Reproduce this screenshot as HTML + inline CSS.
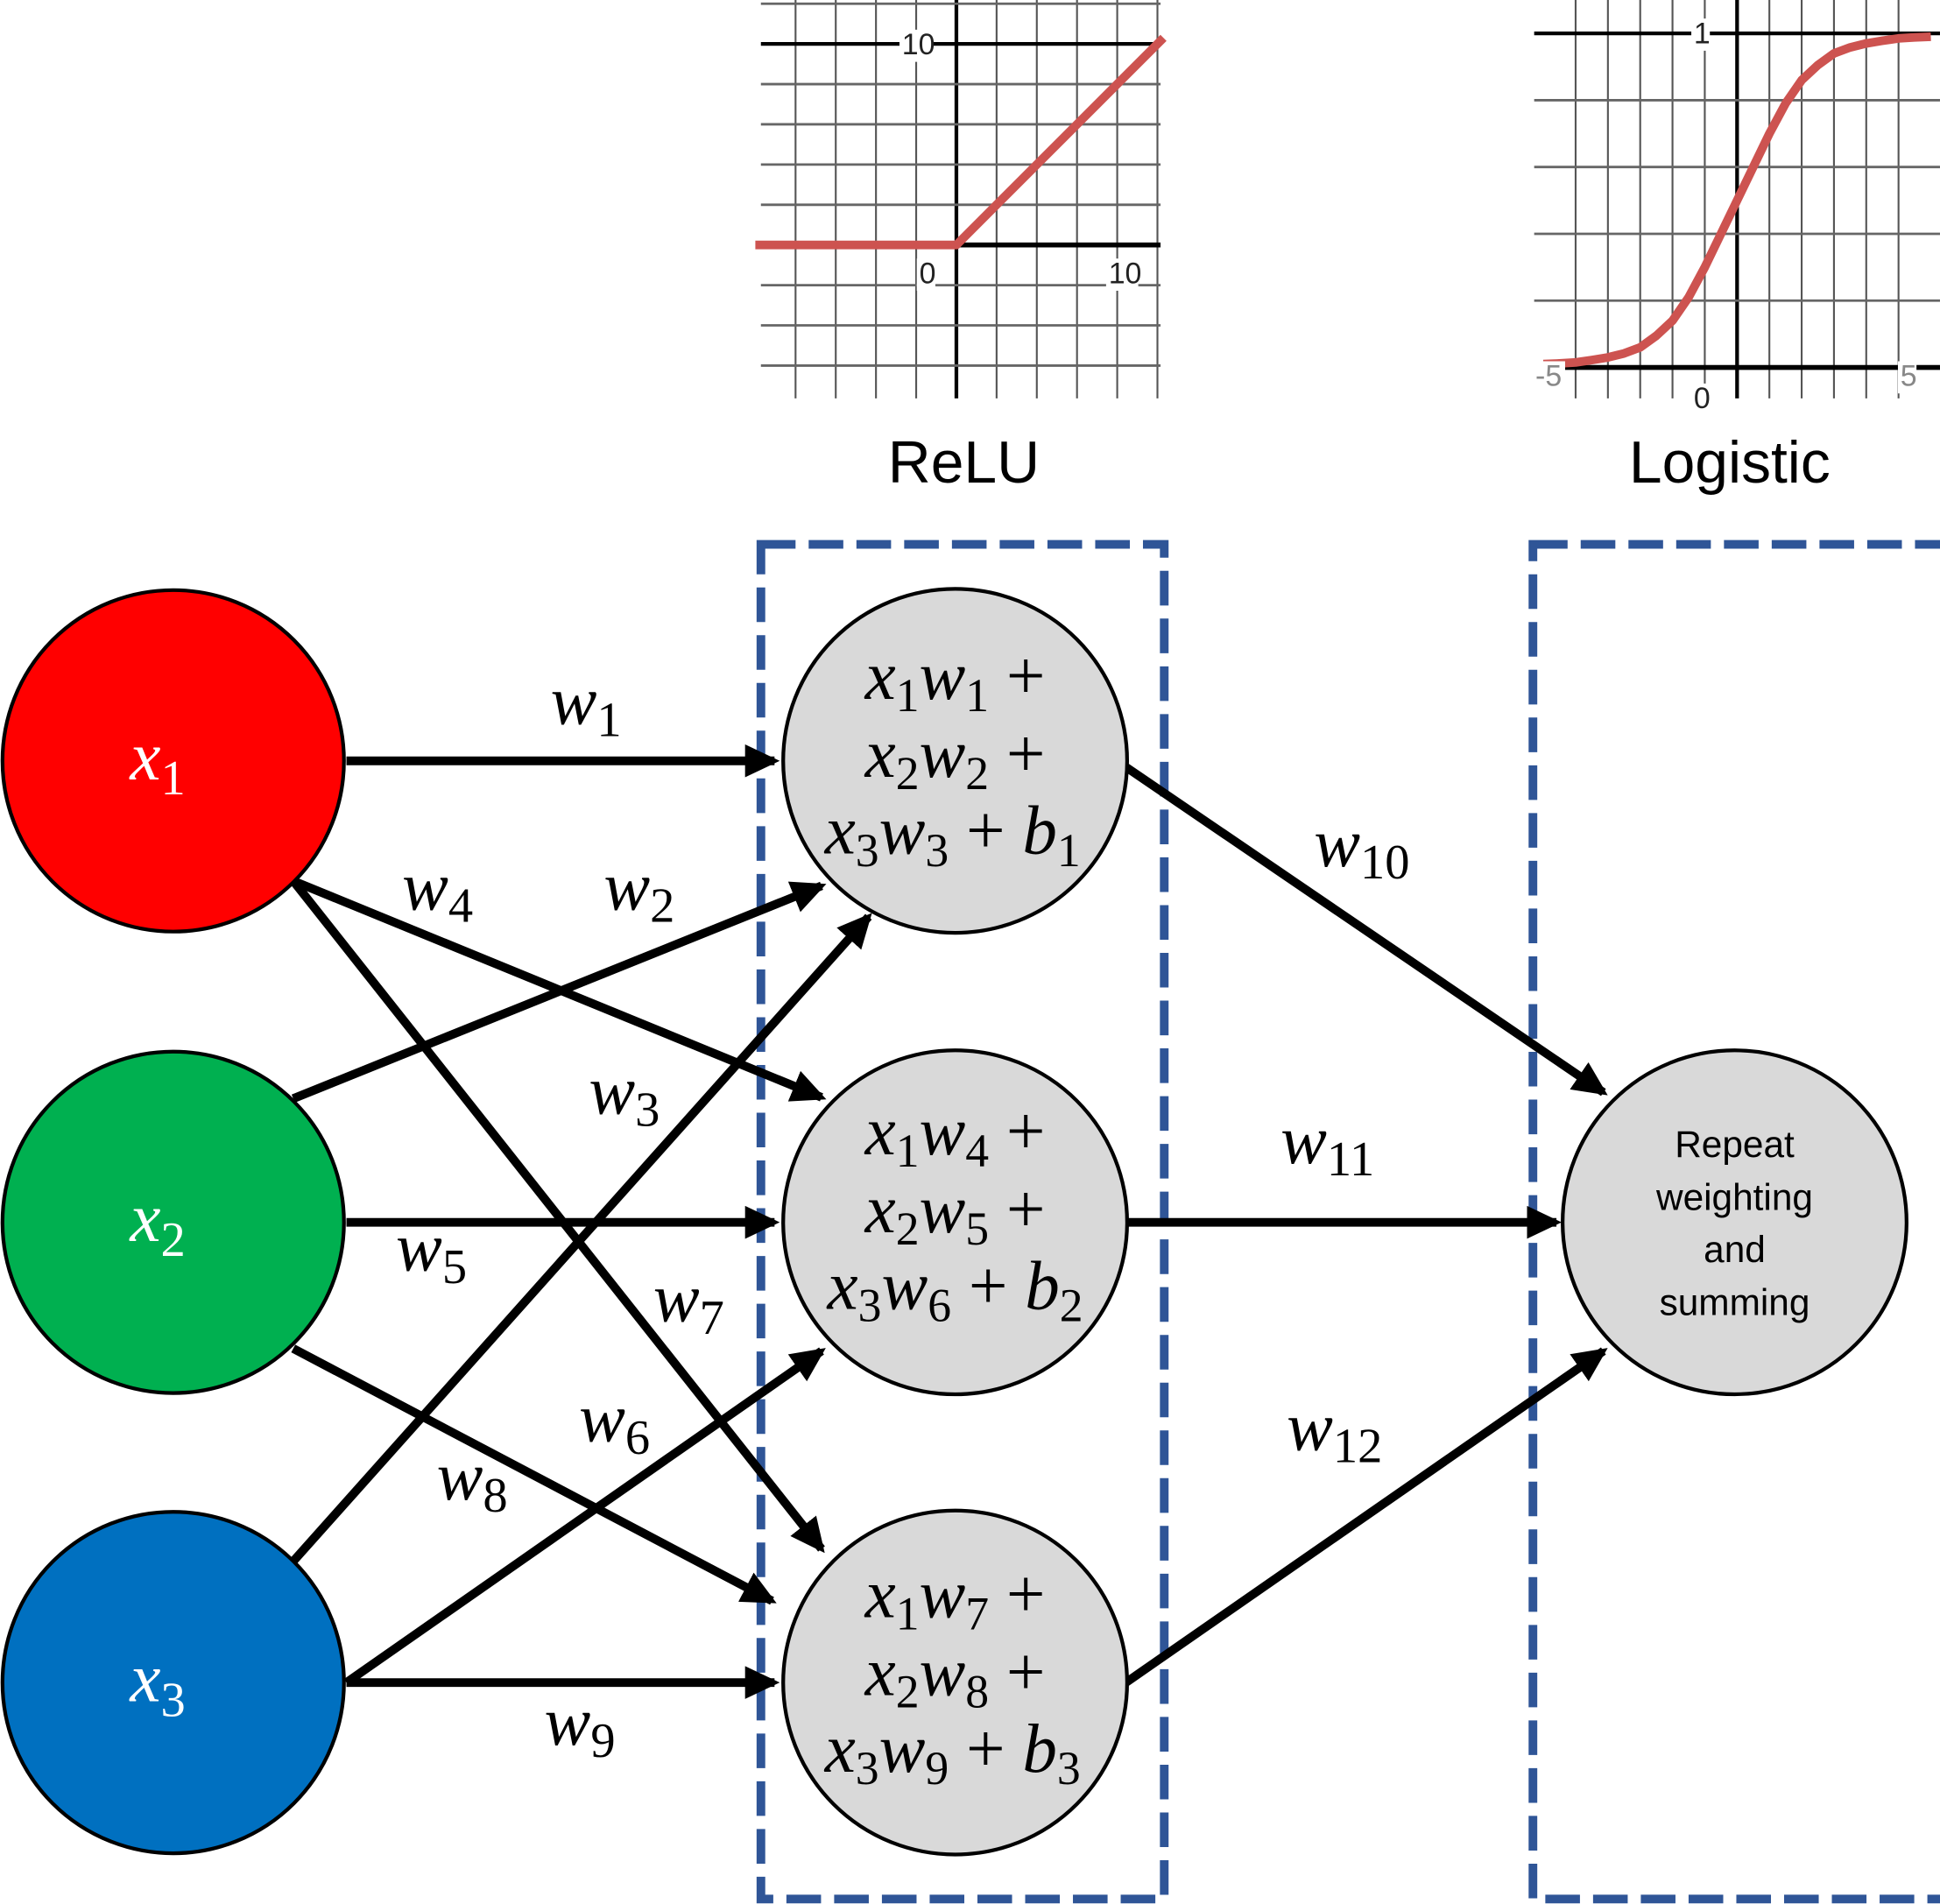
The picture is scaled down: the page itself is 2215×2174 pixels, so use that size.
<!DOCTYPE html>
<html><head><meta charset="utf-8"><style>
html,body{margin:0;padding:0;background:#fff;}
svg{display:block;}
.m{font-family:"Liberation Serif",serif;font-style:italic;}
.s{font-family:"Liberation Sans","DejaVu Sans",sans-serif;}
</style></head><body>
<svg id="root" width="2215" height="2174" viewBox="0 0 1568 1539" xmlns="http://www.w3.org/2000/svg">
<defs>
<marker id="ah" markerWidth="4" markerHeight="4" refX="3.4" refY="1.9" orient="auto" markerUnits="strokeWidth"><path d="M0,0 L4,1.9 L0,3.8 z" fill="#000"/></marker>
</defs>
<g id="relu"></g>
<g id="logi"></g>
<text x="779" y="390" font-size="48" text-anchor="middle" class="s">ReLU</text>
<text x="1398" y="390" font-size="48" text-anchor="middle" class="s">Logistic</text>

<g fill="none" stroke="#2f5597" stroke-width="7" stroke-dasharray="28 10.6">
<rect x="615" y="440" width="326" height="1095"/>
<rect x="1239" y="440" width="340" height="1095"/>
</g>

<g stroke="#000" stroke-width="7" marker-end="url(#ah)">
<line x1="280" y1="615" x2="626" y2="615"/>
<line x1="237" y1="712" x2="664" y2="887"/>
<line x1="237" y1="712" x2="664" y2="1252"/>
<line x1="237" y1="888" x2="664" y2="716"/>
<line x1="280" y1="988" x2="626" y2="988"/>
<line x1="237" y1="1090" x2="624" y2="1294"/>
<line x1="237" y1="1262" x2="702" y2="741"/>
<line x1="280" y1="1360" x2="664" y2="1092"/>
<line x1="280" y1="1360" x2="626" y2="1360"/>
<line x1="910" y1="620" x2="1296" y2="883"/>
<line x1="910" y1="988" x2="1258" y2="988"/>
<line x1="910" y1="1360" x2="1296" y2="1092"/>
</g>

<g stroke="#000" stroke-width="3">
<circle cx="140" cy="615" r="138" fill="#ff0000"/>
<circle cx="140" cy="988" r="138" fill="#00b050"/>
<circle cx="140" cy="1360" r="138" fill="#0070c0"/>
<circle cx="772" cy="615" r="139" fill="#d9d9d9"/>
<circle cx="772" cy="988" r="139" fill="#d9d9d9"/>
<circle cx="772" cy="1360" r="139" fill="#d9d9d9"/>
<circle cx="1402" cy="988" r="139" fill="#d9d9d9"/>
</g>

<g class="m" fill="#fff" font-size="56">
<text x="105" y="630">x<tspan font-size="40" font-style="normal" dy="12">1</tspan></text>
<text x="105" y="1003">x<tspan font-size="40" font-style="normal" dy="12">2</tspan></text>
<text x="105" y="1375">x<tspan font-size="40" font-style="normal" dy="12">3</tspan></text>
</g>

<g class="m" font-size="56" text-anchor="middle" fill="#000">
<text x="772" y="565">x<tspan font-size="38" font-style="normal" dy="10">1</tspan><tspan dy="-10">w</tspan><tspan font-size="38" font-style="normal" dy="10">1</tspan><tspan font-style="normal" dy="-10"> +</tspan></text>
<text x="772" y="628">x<tspan font-size="38" font-style="normal" dy="10">2</tspan><tspan dy="-10">w</tspan><tspan font-size="38" font-style="normal" dy="10">2</tspan><tspan font-style="normal" dy="-10"> +</tspan></text>
<text x="770" y="690">x<tspan font-size="38" font-style="normal" dy="10">3</tspan><tspan dy="-10">w</tspan><tspan font-size="38" font-style="normal" dy="10">3</tspan><tspan font-style="normal" dy="-10"> + </tspan>b<tspan font-size="38" font-style="normal" dy="10">1</tspan></text>
<text x="772" y="933">x<tspan font-size="38" font-style="normal" dy="10">1</tspan><tspan dy="-10">w</tspan><tspan font-size="38" font-style="normal" dy="10">4</tspan><tspan font-style="normal" dy="-10"> +</tspan></text>
<text x="772" y="996">x<tspan font-size="38" font-style="normal" dy="10">2</tspan><tspan dy="-10">w</tspan><tspan font-size="38" font-style="normal" dy="10">5</tspan><tspan font-style="normal" dy="-10"> +</tspan></text>
<text x="772" y="1058">x<tspan font-size="38" font-style="normal" dy="10">3</tspan><tspan dy="-10">w</tspan><tspan font-size="38" font-style="normal" dy="10">6</tspan><tspan font-style="normal" dy="-10"> + </tspan>b<tspan font-size="38" font-style="normal" dy="10">2</tspan></text>
<text x="772" y="1307">x<tspan font-size="38" font-style="normal" dy="10">1</tspan><tspan dy="-10">w</tspan><tspan font-size="38" font-style="normal" dy="10">7</tspan><tspan font-style="normal" dy="-10"> +</tspan></text>
<text x="772" y="1370">x<tspan font-size="38" font-style="normal" dy="10">2</tspan><tspan dy="-10">w</tspan><tspan font-size="38" font-style="normal" dy="10">8</tspan><tspan font-style="normal" dy="-10"> +</tspan></text>
<text x="770" y="1432">x<tspan font-size="38" font-style="normal" dy="10">3</tspan><tspan dy="-10">w</tspan><tspan font-size="38" font-style="normal" dy="10">9</tspan><tspan font-style="normal" dy="-10"> + </tspan>b<tspan font-size="38" font-style="normal" dy="10">3</tspan></text>
</g>

<g class="s" font-size="30" text-anchor="middle" fill="#000">
<text x="1402" y="935">Repeat</text>
<text x="1402" y="978">weighting</text>
<text x="1402" y="1020">and</text>
<text x="1402" y="1063">summing</text>
</g>

<g class="m" font-size="56" fill="#000">
<text x="445" y="585">w<tspan font-size="40" font-style="normal" dy="10">1</tspan></text>
<text x="325" y="735">w<tspan font-size="40" font-style="normal" dy="10">4</tspan></text>
<text x="488" y="735">w<tspan font-size="40" font-style="normal" dy="10">2</tspan></text>
<text x="476" y="900">w<tspan font-size="40" font-style="normal" dy="10">3</tspan></text>
<text x="320" y="1027">w<tspan font-size="40" font-style="normal" dy="10">5</tspan></text>
<text x="528" y="1068">w<tspan font-size="40" font-style="normal" dy="10">7</tspan></text>
<text x="468" y="1165">w<tspan font-size="40" font-style="normal" dy="10">6</tspan></text>
<text x="353" y="1212">w<tspan font-size="40" font-style="normal" dy="10">8</tspan></text>
<text x="440" y="1410">w<tspan font-size="40" font-style="normal" dy="10">9</tspan></text>
<text x="1062" y="700">w<tspan font-size="40" font-style="normal" dy="10">10</tspan></text>
<text x="1035" y="940">w<tspan font-size="40" font-style="normal" dy="10">11</tspan></text>
<text x="1040" y="1172">w<tspan font-size="40" font-style="normal" dy="10">12</tspan></text>
</g>
</svg>
<script>
// ReLU chart data
const reluX = [-10, 0, 10.3];
const reluY = [0, 0, 10.3];
const reluGridX = [-8, -6, -4, -2, 0, 2, 4, 6, 8, 10];
const reluGridY = [-6, -4, -2, 0, 2, 4, 6, 8, 10, 12];
// Logistic chart data
const logiX = [-6, -5.5, -5, -4.5, -4, -3.5, -3, -2.5, -2, -1.5, -1, -0.5, 0, 0.5, 1, 1.5, 2, 2.5, 3, 3.5, 4, 4.5, 5, 5.5, 6];
const logiY = [0.01, 0.012, 0.015, 0.022, 0.03, 0.042, 0.06, 0.095, 0.14, 0.21, 0.3, 0.4, 0.5, 0.6, 0.7, 0.79, 0.86, 0.905, 0.94, 0.958, 0.97, 0.978, 0.985, 0.988, 0.99];
const logiGridX = [-5, -4, -3, -2, -1, 0, 1, 2, 3, 4, 5];
const logiGridY = [0, 0.2, 0.4, 0.6, 0.8, 1];

const NS = "http://www.w3.org/2000/svg";
function mk(parent, tag, attrs) {
  const e = document.createElementNS(NS, tag);
  for (const k in attrs) e.setAttribute(k, attrs[k]);
  parent.appendChild(e);
  return e;
}
function drawChart(g, o) {
  const sx = v => o.x0 + v * o.kx, sy = v => o.y0 - v * o.ky;
  o.gx.forEach(v => {
    const l = mk(g, "line", {x1: sx(v), x2: sx(v), y1: o.top, y2: o.bot, stroke: v === 0 ? "#000" : "#555", "stroke-width": v === 0 ? 3 : 1.5});
    
    
  });
  o.gy.forEach(v => {
    const l = mk(g, "line", {x1: o.left, x2: o.right, y1: sy(v), y2: sy(v), stroke: (v === 0 || v === o.dark) ? "#000" : "#666", "stroke-width": v === 0 ? 4 : (v === o.dark ? 3 : 2)});
    
    
  });
  const pts = o.xs.map((v, i) => sx(v) + "," + sy(o.ys[i])).join(" ");
  const pl = mk(g, "polyline", {points: pts, fill: "none", stroke: "#cd5350", "stroke-width": 7, "stroke-linejoin": "round"});
  
  
  o.labels.forEach(t => {
    const bg = mk(g, "rect", {x: t[0] - 11, y: t[1] - 20, width: 22 * t[2].length / 2 + 4, height: 26, fill: "#fff"});
    
    
    const tx = mk(g, "text", {x: t[0] - 9, y: t[1], "font-size": 24, fill: t[3] || "#222", "font-family": "Liberation Sans, sans-serif"});
    tx.textContent = t[2];
    
    
  });
}
drawChart(document.getElementById("relu"), {
  x0: 773, y0: 198, kx: 16.25, ky: 16.25, left: 615, right: 938, top: 0, bot: 322,
  gx: reluGridX, gy: reluGridY, dark: 10, xs: reluX, ys: reluY,
  labels: [[738, 44, "10"], [752, 229, "0"], [905, 229, "10"]]
});
drawChart(document.getElementById("logi"), {
  x0: 1404, y0: 297, kx: 26.1, ky: 270, left: 1240, right: 1568, top: 0, bot: 322,
  gx: logiGridX, gy: logiGridY, dark: 1, xs: logiX, ys: logiY,
  labels: [[1378, 35, "1"], [1250, 312, "-5", "#888"], [1378, 330, "0"], [1545, 312, "5", "#888"]]
});
</script>
</body></html>
